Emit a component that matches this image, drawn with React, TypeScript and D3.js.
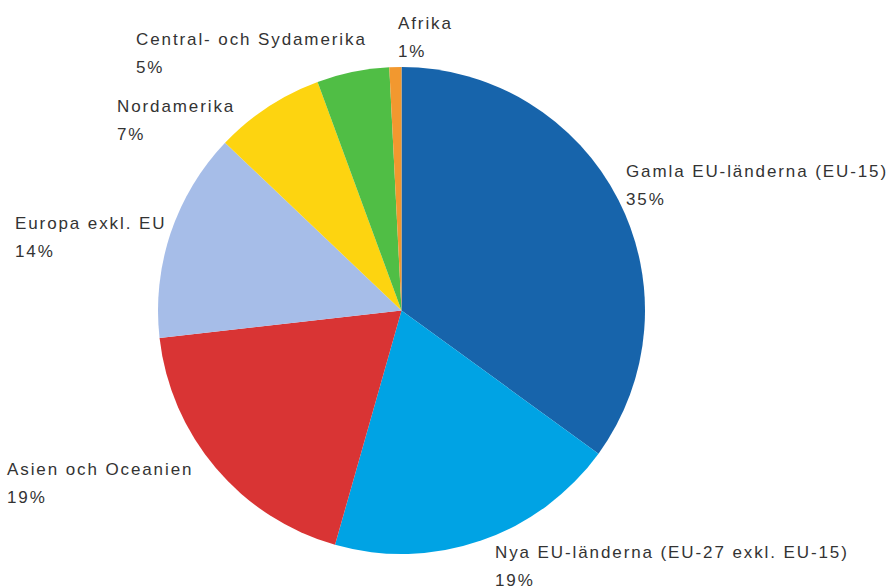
import React from "react";
import * as d3 from "d3";

const categories = [
  "Gamla EU-länderna (EU-15)",
  "Nya EU-länderna (EU-27 exkl. EU-15)",
  "Asien och Oceanien",
  "Europa exkl. EU",
  "Nordamerika",
  "Central- och Sydamerika",
  "Afrika",
];
const values = [35.0, 19.4, 18.8, 13.9, 7.3, 4.8, 0.8];
const colors = ["#1764ab", "#00a3e4", "#d93434", "#a6bde8", "#fdd410", "#50be45", "#f2982f"];

// label layout: [x, firstBaselineY, anchor]
const labelLayout: [number, number, "start" | "end"][] = [
  [626, 177, "start"],
  [495, 558, "start"],
  [7, 475, "start"],
  [15, 229, "start"],
  [117, 112, "start"],
  [136, 45, "start"],
  [398, 29, "start"],
];

const W = 892;
const H = 587;
const CX = 401.5;
const CY = 310.5;
const R = 243.5;

export default function App() {
  const pie = d3.pie<number>().sort(null).value((d) => d)(values);
  const arc = d3.arc<d3.PieArcDatum<number>>().innerRadius(0).outerRadius(R);
  const total = d3.sum(values);
  return (
    <svg
      width={W}
      height={H}
      style={{ position: "absolute", left: 0, top: 0, background: "#fff" }}
    >
      <g transform={`translate(${CX},${CY})`}>
        {pie.map((p, i) => (
          <path key={i} d={arc(p) || ""} fill={colors[i]} />
        ))}
      </g>
      <g
        fontFamily="'Liberation Sans', Arial, sans-serif"
        fontSize={17}
        fill="#333"
        letterSpacing={1.9}
      >
        {categories.map((c, i) => {
          const [x, y, a] = labelLayout[i];
          return (
            <text key={c} x={x} y={y} textAnchor={a}>
              <tspan x={x}>{c}</tspan>
              <tspan x={x} dy={28}>
                {Math.round((values[i] / total) * 100)}%
              </tspan>
            </text>
          );
        })}
      </g>
    </svg>
  );
}
